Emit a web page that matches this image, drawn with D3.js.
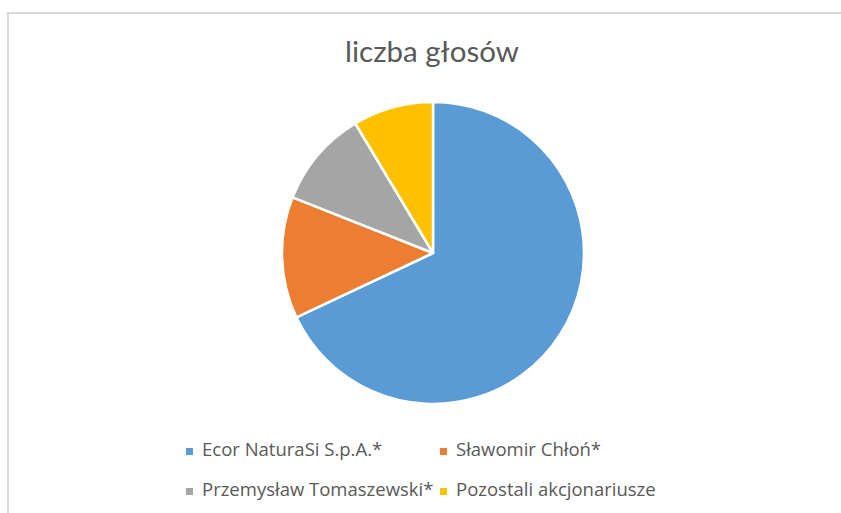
<!DOCTYPE html>
<html>
<head>
<meta charset="utf-8">
<script src="https://cdn.jsdelivr.net/npm/d3@7"></script>
<style>
  html, body { margin: 0; padding: 0; background: #fff; }
  svg { display: block; font-family: Lato, "Open Sans", sans-serif; }
</style>
</head>
<body>
<div id="chart"></div>
<script>
var title = "liczba głosów";
var categories = ["Ecor NaturaSi S.p.A.*", "Sławomir Chłoń*", "Przemysław Tomaszewski*", "Pozostali akcjonariusze"];
var values = [68.0, 13.0, 10.4, 8.6];
var colors = ["#5b9bd5", "#ed7d31", "#a5a5a5", "#ffc000"];

var width = 841, height = 513;
var svg = d3.select("#chart").append("svg").attr("width", width).attr("height", height);

// chart frame (runs off the right/bottom edge like the screenshot)
svg.append("rect")
    .attr("x", 8).attr("y", 13)
    .attr("width", width + 10).attr("height", height + 10)
    .attr("fill", "#fff").attr("stroke", "#d9d9d9").attr("stroke-width", 2);

svg.append("text")
    .attr("x", 432).attr("y", 62)
    .attr("text-anchor", "middle")
    .attr("font-size", 29.5)
    .attr("fill", "#595959")
    .text(title);

var data = categories.map(function (c, i) { return { name: c, value: values[i], color: colors[i] }; });

var pie = d3.pie().sort(null).value(function (d) { return d.value; });
var arc = d3.arc().innerRadius(0).outerRadius(151);

var g = svg.append("g").attr("transform", "translate(433,253)");
g.selectAll("path").data(pie(data)).enter().append("path")
    .attr("d", arc)
    .attr("fill", function (d) { return d.data.color; })
    .attr("stroke", "#fff")
    .attr("stroke-width", 2.5)
    .attr("stroke-linejoin", "round");

// legend, two columns x two rows
var colX = [186, 440], rowY = [456, 496];
var legend = svg.append("g").selectAll("g").data(data).enter().append("g")
    .attr("transform", function (d, i) {
        return "translate(" + colX[i % 2] + "," + rowY[Math.floor(i / 2)] + ")";
    });
legend.append("rect")
    .attr("x", 0).attr("y", -8).attr("width", 7).attr("height", 7)
    .attr("fill", function (d) { return d.color; });
legend.append("text")
    .attr("x", 16).attr("y", 0)
    .attr("font-family", "'Open Sans', sans-serif")
    .attr("font-size", 18.5)
    .attr("fill", "#595959")
    .text(function (d) { return d.name; });
</script>
</body>
</html>
